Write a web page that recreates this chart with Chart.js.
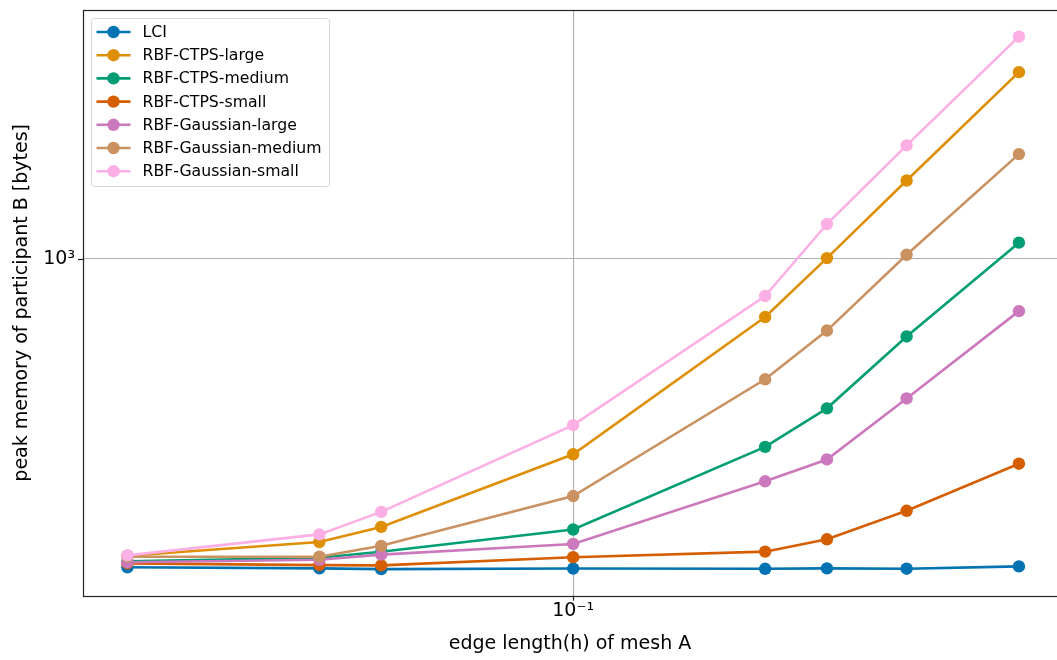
<!DOCTYPE html>
<html>
<head>
<meta charset="utf-8">
<script src="https://cdn.jsdelivr.net/npm/chart.js@4"></script>
<style>
  body { margin: 0; background: #fff; }
  canvas { display: block; }
</style>
</head>
<body>
<canvas id="grafica" width="1057" height="660"></canvas>
<script>
// mesh A edge length (h)
const edgeLength = [0.5, 0.25, 0.2, 0.1, 0.05, 0.04, 0.03, 0.02];

// peak memory of participant B [bytes]
const lci         = [148, 147, 146.3, 146.8, 146.6, 147, 146.7, 148.8];
const ctpsLarge   = [159, 173, 190, 298, 697, 1004, 1623, 3176];
const ctpsMedium  = [153.5, 157, 163, 187, 312, 396, 618, 1105];
const ctpsSmall   = [151.6, 150, 149.7, 157.5, 163, 176, 210, 281];
const gaussLarge  = [152.6, 155, 160, 171, 252, 288.5, 421, 723];
const gaussMedium = [158, 158, 169, 230, 474, 641, 1025, 1912];
const gaussSmall  = [159.3, 181.4, 208.5, 357, 794, 1240, 2018, 3957];

const seriesNames = ['LCI', 'RBF-CTPS-large', 'RBF-CTPS-medium', 'RBF-CTPS-small',
    'RBF-Gaussian-large', 'RBF-Gaussian-medium', 'RBF-Gaussian-small'];
const seriesValues = [lci, ctpsLarge, ctpsMedium, ctpsSmall, gaussLarge, gaussMedium, gaussSmall];
const seriesColors = ['#0173b2', '#de8f05', '#029e73', '#d55e00', '#cc78bc', '#ca9161', '#fbafe4'];

// axis limits (x axis runs from coarse to fine mesh)
const xLimits = [0.01743, 0.587];
const yLimits = [124.1, 4667];

const FONT = "'DejaVu Sans', 'Liberation Sans', sans-serif";

const isPow10 = (v) => Math.abs(Math.log10(v) - Math.round(Math.log10(v))) < 1e-9;
const isWholeStep = (v) => {
    let s = v / Math.pow(10, Math.floor(Math.log10(v) + 1e-9));
    return Math.abs(s - Math.round(s)) < 1e-6;
};
const supDigits = { '-': '⁻', '0': '⁰', '1': '¹', '2': '²', '3': '³', '4': '⁴', '5': '⁵', '6': '⁶', '7': '⁷', '8': '⁸', '9': '⁹' };
const powLabel = (v) => {
    if (!isPow10(v)) return null;
    let e = String(Math.round(Math.log10(v)));
    return '10' + e.split('').map(c => supDigits[c]).join('');
};

const datasets = seriesNames.map((name, i) => ({
    label: name,
    data: edgeLength.map((h, k) => ({ x: h, y: seriesValues[i][k] })),
    borderColor: seriesColors[i],
    backgroundColor: seriesColors[i],
    borderWidth: 2.6,
    pointRadius: 6.2,
    pointBorderWidth: 0,
    pointHoverRadius: 6.2,
    order: seriesNames.length - i
}));

// matplotlib-like frame, tick marks and legend
const frameAndLegend = {
    id: 'frameAndLegend',
    afterDraw(chart) {
        const ctx = chart.ctx;
        const area = chart.chartArea;
        ctx.save();

        // tick marks
        const drawTicks = (scale, horizontal) => {
            scale.ticks.forEach(t => {
                if (!isWholeStep(t.value)) return;
                const major = isPow10(t.value);
                const len = major ? 5 : 3;
                ctx.lineWidth = major ? 1.2 : 0.9;
                ctx.strokeStyle = '#222';
                const p = Math.round(scale.getPixelForValue(t.value)) + 0.5;
                ctx.beginPath();
                if (horizontal) {
                    ctx.moveTo(p, area.bottom);
                    ctx.lineTo(p, area.bottom + len);
                } else {
                    ctx.moveTo(area.left - len, p);
                    ctx.lineTo(area.left, p);
                }
                ctx.stroke();
            });
        };
        drawTicks(chart.scales.x, true);
        drawTicks(chart.scales.y, false);

        // frame
        ctx.lineWidth = 1.2;
        ctx.strokeStyle = '#222';
        ctx.strokeRect(Math.round(area.left) + 0.5, Math.round(area.top) + 0.5,
            area.right - area.left + 5, Math.round(area.bottom - area.top));

        // legend
        const bx = area.left + 8.5, by = area.top + 8.5, bw = 238, bh = 168;
        ctx.beginPath();
        ctx.roundRect(bx, by, bw, bh, 3);
        ctx.fillStyle = 'rgba(255,255,255,0.8)';
        ctx.fill();
        ctx.lineWidth = 1;
        ctx.strokeStyle = '#d6d6d6';
        ctx.stroke();

        ctx.font = '15.7px ' + FONT;
        ctx.textBaseline = 'middle';
        ctx.textAlign = 'left';
        seriesNames.forEach((name, i) => {
            const cy = by + 13.5 + i * 23.2;
            ctx.strokeStyle = seriesColors[i];
            ctx.lineWidth = 2.6;
            ctx.beginPath();
            ctx.moveTo(bx + 5, cy);
            ctx.lineTo(bx + 39, cy);
            ctx.stroke();
            ctx.fillStyle = seriesColors[i];
            ctx.beginPath();
            ctx.arc(bx + 22, cy, 6.2, 0, Math.PI * 2);
            ctx.fill();
            ctx.fillStyle = '#000';
            ctx.fillText(name, bx + 51, cy + 1);
        });
        ctx.restore();
    }
};

new Chart('grafica', {
    type: 'line',
    data: { datasets: datasets },
    options: {
        responsive: false,
        animation: false,
        layout: { autoPadding: false, padding: { top: 10, right: 0, left: 0, bottom: 0 } },
        plugins: {
            legend: { display: false },
            tooltip: { enabled: false }
        },
        scales: {
            x: {
                type: 'logarithmic',
                reverse: true,
                min: xLimits[0],
                max: xLimits[1],
                afterFit: (scale) => {
                    scale.height = 64.3;
                    scale.paddingLeft = 0;
                    scale.paddingRight = 0;
                },
                border: { display: false },
                grid: {
                    drawTicks: false,
                    lineWidth: 1.1,
                    color: (c) => (c.tick && isPow10(c.tick.value)) ? '#b0b0b0' : 'rgba(0,0,0,0)'
                },
                ticks: {
                    autoSkip: false,
                    maxRotation: 0,
                    padding: 4,
                    color: '#000',
                    font: { family: FONT, size: 19 },
                    callback: (v) => powLabel(v)
                },
                title: {
                    display: true,
                    text: 'edge length(h) of mesh A',
                    color: '#000',
                    font: { family: FONT, size: 19 },
                    padding: { top: 0, bottom: 5 }
                }
            },
            y: {
                type: 'logarithmic',
                min: yLimits[0],
                max: yLimits[1],
                afterFit: (scale) => {
                    scale.width = 83;
                    scale.paddingTop = 0;
                    scale.paddingBottom = 0;
                },
                border: { display: false },
                grid: {
                    drawTicks: false,
                    lineWidth: 1.1,
                    color: (c) => (c.tick && isPow10(c.tick.value)) ? '#b0b0b0' : 'rgba(0,0,0,0)'
                },
                ticks: {
                    autoSkip: false,
                    padding: 8,
                    color: '#000',
                    font: { family: FONT, size: 19 },
                    callback: (v) => powLabel(v)
                },
                title: {
                    display: true,
                    text: 'peak memory of participant B [bytes]',
                    color: '#000',
                    font: { family: FONT, size: 19 },
                    padding: { top: 11, bottom: 0 }
                }
            }
        }
    },
    plugins: [frameAndLegend]
});
</script>
</body>
</html>
